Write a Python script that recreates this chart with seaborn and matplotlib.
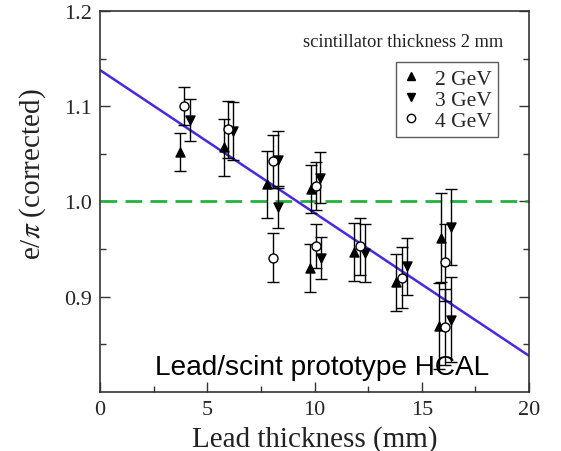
import matplotlib
matplotlib.use("Agg")
import matplotlib.pyplot as plt
import seaborn as sns
import pandas as pd
from matplotlib.lines import Line2D
from matplotlib.ticker import MultipleLocator, FixedLocator

# ---- data ----
x_2gev = [3.72, 5.80, 7.80, 9.85, 9.80, 11.86, 13.80, 15.90, 15.80]
y_2gev = [1.052, 1.057, 1.018, 1.013, 0.930, 0.947, 0.915, 0.962, 0.869]
e_2gev = [0.020, 0.030, 0.035, 0.025, 0.025, 0.030, 0.030, 0.047, 0.045]

x_3gev = [4.20, 6.20, 8.30, 8.30, 10.27, 10.30, 12.37, 14.30, 16.36, 16.36]
y_3gev = [1.086, 1.074, 1.044, 0.994, 1.025, 0.941, 0.946, 0.932, 0.973, 0.876]
e_3gev = [0.022, 0.030, 0.030, 0.022, 0.027, 0.022, 0.030, 0.030, 0.040, 0.045]

x_4gev = [3.90, 5.95, 8.05, 8.05, 10.05, 10.05, 12.10, 14.08, 16.10, 16.10]
y_4gev = [1.100, 1.076, 1.042, 0.941, 1.016, 0.953, 0.953, 0.920, 0.936, 0.868]
e_4gev = [0.020, 0.030, 0.028, 0.026, 0.025, 0.023, 0.030, 0.032, 0.040, 0.040]

fit_x = [0, 20]
fit_y = [1.138, 0.838]
ref_level = 1.0

series_labels = ["2 GeV", "3 GeV", "4 GeV"]
x_ticks = [0, 5, 10, 15, 20]
y_ticks = [0.9, 1.0, 1.1, 1.2]
y_tick_labels = ["0.9", "1.0", "1.1", "1.2"]

# ---- figure ----
sns.set_style("ticks")
plt.rcParams["font.family"] = ["Liberation Serif", "DejaVu Serif"]
plt.rcParams["mathtext.fontset"] = "stix"

fig = plt.figure(figsize=(5.61, 4.52), dpi=100)
ax = fig.add_axes([100 / 561, 1 - 393 / 452, 429 / 561, 381 / 452])

# reference line and fit line
ax.axhline(ref_level, color="#22b33c", lw=2.0, ls=(0, (6, 3)), zorder=1)
fit_df = pd.DataFrame({"x": fit_x, "y": fit_y})
sns.lineplot(data=fit_df, x="x", y="y", ax=ax, color="#4b25e6", lw=1.8, zorder=2)

groups = [
    (x_2gev, y_2gev, e_2gev, "^", "black"),
    (x_3gev, y_3gev, e_3gev, "v", "black"),
    (x_4gev, y_4gev, e_4gev, "o", "white"),
]
for (xs, ys, es, mk, fc), lab in zip(groups, series_labels):
    ax.errorbar(xs, ys, yerr=es, fmt="none", ecolor="black", elinewidth=1.0,
                capsize=4, capthick=1.0, zorder=3)
    df = pd.DataFrame({"x": xs, "y": ys})
    sns.scatterplot(data=df, x="x", y="y", ax=ax, marker=mk, s=42,
                    color=fc, edgecolor="black", linewidth=1.0, zorder=4)

ax.set_xlim(0, 20)
ax.set_ylim(0.8, 1.2)
ax.xaxis.set_major_locator(FixedLocator(x_ticks))
ax.xaxis.set_minor_locator(MultipleLocator(2.5))
ax.yaxis.set_major_locator(FixedLocator(y_ticks))
ax.set_yticklabels(y_tick_labels)
ax.yaxis.set_minor_locator(FixedLocator([0.85, 0.95, 1.05, 1.15]))
ax.tick_params(which="both", direction="in", right=True, top=False,
               labelsize=16, color="#333333", width=1.0, pad=6)
ax.tick_params(which="major", length=7)
ax.tick_params(which="minor", length=4)
for s in ax.spines.values():
    s.set_visible(True)
    s.set_linewidth(1.2)
    s.set_color("#333333")

ax.set_xlabel("Lead thickness (mm)", fontsize=21, color="#222222")
ax.xaxis.set_label_coords(0.5, -0.087)
ax.set_ylabel(r"e/$\pi$ (corrected)", fontsize=21, color="#222222")
ax.yaxis.set_label_coords(-0.122, 0.575)

ax.text(0.94, 0.921, "scintillator thickness 2 mm", transform=ax.transAxes,
        ha="right", va="center", fontsize=13.3, color="#222222")
ax.text(2.55, 0.826, "Lead/scint prototype HCAL", ha="left", va="center",
        fontsize=20.2, color="black", family=["Liberation Sans", "DejaVu Sans"])

handles = [
    Line2D([], [], ls="none", marker="^", color="black", markersize=6),
    Line2D([], [], ls="none", marker="v", color="black", markersize=6),
    Line2D([], [], ls="none", marker="o", markerfacecolor="white",
           markeredgecolor="black", markersize=6),
]
leg = ax.legend(handles, series_labels, loc="upper right",
                bbox_to_anchor=(0.928, 0.866), frameon=True, fancybox=False,
                edgecolor="#333333", fontsize=15.5, handlelength=0.8,
                handletextpad=0.7, labelspacing=0.05, borderpad=0.3,
                borderaxespad=0)
leg.get_frame().set_linewidth(1.0)

fig.savefig("out.png", dpi=100)
